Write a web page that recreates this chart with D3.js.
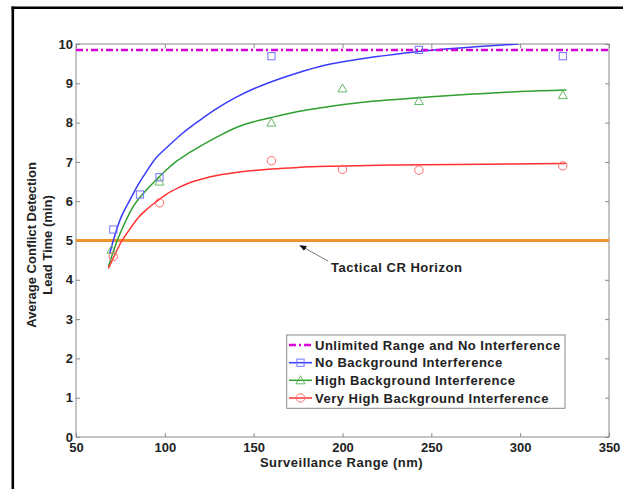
<!DOCTYPE html>
<html><head><meta charset="utf-8">
<script src="https://cdn.jsdelivr.net/npm/d3@7"></script>
<style>
html,body{margin:0;padding:0;background:#fff;}
svg{display:block;}
text{font-family:"Liberation Sans",Arial,sans-serif;font-weight:bold;fill:#222;}
</style></head><body>
<svg id="c" width="623" height="489"></svg>
<script>
// ---- data ----
const xTicks = [50,100,150,200,250,300,350];
const yTicks = [0,1,2,3,4,5,6,7,8,9,10];
const unlimitedLevel = 9.85;
const tacticalHorizon = 5;

const noBgX = [71,86,97,160,243,324];
const noBgY = [5.28,6.17,6.61,9.69,9.85,9.69];
const highBgX = [70,97,160,200,243,324];
const highBgY = [4.76,6.5,8.0,8.87,8.55,8.70];
const veryHighBgX = [71,97,160,200,243,324];
const veryHighBgY = [4.59,5.96,7.03,6.81,6.79,6.90];

// fitted curves, sampled along the drawn lines
const noBgFitX = [69,71,75,80,85,90,95,100,110,120,130,140,150,160,175,190,210,230,250,275,299];
const noBgFitY = [4.67,5.0,5.55,6.0,6.42,6.78,7.1,7.32,7.73,8.07,8.38,8.64,8.86,9.04,9.27,9.46,9.62,9.74,9.84,9.93,10.0];
const highBgFitX = [68.2,73.2,77,82,87,92,97,101,107,114,120,130,140,150,160,175,190,210,230,250,275,300,326];
const highBgFitY = [4.33,5.0,5.4,5.85,6.15,6.4,6.63,6.8,7.03,7.24,7.4,7.65,7.87,8.02,8.13,8.28,8.39,8.51,8.59,8.66,8.73,8.79,8.83];
const veryHighBgFitX = [68.2,72,75,80,85,90,95,101,108,114,122,130,140,150,160,175,195,230,280,326];
const veryHighBgFitY = [4.29,4.65,4.93,5.27,5.58,5.8,5.98,6.18,6.35,6.47,6.58,6.66,6.73,6.78,6.82,6.86,6.89,6.92,6.94,6.96];

const legendLabels = ["Unlimited Range and No Interference","No Background Interference","High Background Interference","Very High Background Interference"];
const annotationText = "Tactical CR Horizon";
const xTitle = "Surveillance Range (nm)";
const yTitle1 = "Average Conflict Detection";
const yTitle2 = "Lead Time (min)";

// ---- drawing ----
const svg = d3.select("#c");
const L=76, R=609, T=44, B=437;
const x = d3.scaleLinear().domain([50,350]).range([L,R]);
const y = d3.scaleLinear().domain([0,10]).range([B,T]);

const C = {blue:"#3a3aff", blueM:"#7373ff", green:"#2f9f2f", greenM:"#66b866", red:"#ff3030", redM:"#ff6a6a", mag:"#d400d4", orange:"#f0922b", axis:"#8a8a8a"};

// outer frame
svg.append("line").attr("x1",12.8).attr("x2",12.8).attr("y1",6.5).attr("y2",489).attr("stroke","#000").attr("stroke-width",2.6);
svg.append("line").attr("x1",11.5).attr("x2",623).attr("y1",7.7).attr("y2",7.7).attr("stroke","#000").attr("stroke-width",2.6);

// clip
svg.append("clipPath").attr("id","clip").append("rect").attr("x",L).attr("y",T).attr("width",R-L).attr("height",B-T);

// axes box
const g = svg.append("g");
g.append("rect").attr("x",L).attr("y",T).attr("width",R-L).attr("height",B-T).attr("fill","none").attr("stroke",C.axis).attr("stroke-width",1);

const xb = g.append("g").attr("transform",`translate(0,${B})`).call(d3.axisBottom(x).tickValues(xTicks).tickSize(-4).tickFormat(d3.format("d")));
const xt = g.append("g").attr("transform",`translate(0,${T})`).call(d3.axisTop(x).tickValues(xTicks).tickSize(-4).tickFormat(""));
const yl = g.append("g").attr("transform",`translate(${L},0)`).call(d3.axisLeft(y).tickValues(yTicks).tickSize(-4).tickPadding(3).tickFormat(d3.format("d")));
const yr = g.append("g").attr("transform",`translate(${R},0)`).call(d3.axisRight(y).tickValues(yTicks).tickSize(-4).tickFormat(""));
[xb,xt,yl,yr].forEach(a=>{a.select(".domain").remove();a.selectAll("line").attr("stroke",C.axis);});
[xb,yl].forEach(a=>a.selectAll("text").style("font-size","13px").style("font-family","'Liberation Sans',Arial,sans-serif").style("font-weight","bold").attr("fill","#222"));
xb.selectAll("text").attr("dy","0.71em").attr("y",6);
yl.selectAll("text").attr("x",-3);

const plot = svg.append("g").attr("clip-path","url(#clip)");

// horizon line
plot.append("line").attr("x1",L).attr("x2",R).attr("y1",y(tacticalHorizon)).attr("y2",y(tacticalHorizon)).attr("stroke",C.orange).attr("stroke-width",3);

const line = d3.line().x(d=>x(d[0])).y(d=>y(d[1])).curve(d3.curveMonotoneX);
const fits = [[noBgFitX,noBgFitY,C.blue],[highBgFitX,highBgFitY,C.green],[veryHighBgFitX,veryHighBgFitY,C.red]];
fits.forEach(([xs,ys,col])=>{
  plot.append("path").datum(xs.map((v,i)=>[v,ys[i]])).attr("d",line).attr("fill","none").attr("stroke",col).attr("stroke-width",1.5);
});

// unlimited line
plot.append("line").attr("x1",L).attr("x2",R).attr("y1",y(unlimitedLevel)).attr("y2",y(unlimitedLevel)).attr("stroke",C.mag).attr("stroke-width",2.5).attr("stroke-dasharray","7,3,2,3");

// markers
function square(sel,cx,cy,col){sel.append("rect").attr("x",cx-3.6).attr("y",cy-3.6).attr("width",7.2).attr("height",7.2).attr("fill","none").attr("stroke",col).attr("stroke-width",1);}
function tri(sel,cx,cy,col){sel.append("path").attr("d",`M${cx},${cy-4.5}L${cx+4.5},${cy+3.5}L${cx-4.5},${cy+3.5}Z`).attr("fill","none").attr("stroke",col).attr("stroke-width",1);}
function circ(sel,cx,cy,col){sel.append("circle").attr("cx",cx).attr("cy",cy).attr("r",4.2).attr("fill","none").attr("stroke",col).attr("stroke-width",1);}
const mk = svg.append("g");
noBgX.forEach((v,i)=>square(mk,x(v),y(noBgY[i]),C.blueM));
highBgX.forEach((v,i)=>tri(mk,x(v),y(highBgY[i]),C.greenM));
veryHighBgX.forEach((v,i)=>circ(mk,x(v),y(veryHighBgY[i]),C.redM));

// annotation
svg.append("defs").append("marker").attr("id","ah").attr("viewBox","0 0 10 10").attr("refX",9).attr("refY",5).attr("markerWidth",7).attr("markerHeight",7).attr("orient","auto")
  .append("path").attr("d","M0,1L10,5L0,9Z").attr("fill","#111");
svg.append("line").attr("x1",328).attr("y1",261).attr("x2",300).attr("y2",245.5).attr("stroke","#777").attr("stroke-width",1).attr("marker-end","url(#ah)");
svg.append("text").attr("x",331).attr("y",271.5).style("font-size","13px").style("letter-spacing","0.5px").text(annotationText);

// titles
svg.append("text").attr("x",341.5).attr("y",467).attr("text-anchor","middle").style("font-size","13px").style("letter-spacing","0.5px").text(xTitle);
svg.append("text").attr("transform","translate(36,245) rotate(-90)").attr("text-anchor","middle").style("font-size","13px").text(yTitle1);
svg.append("text").attr("transform","translate(51.5,245) rotate(-90)").attr("text-anchor","middle").style("font-size","13px").text(yTitle2);

// legend
const lg = svg.append("g");
lg.append("rect").attr("x",286.7).attr("y",335).attr("width",278.3).attr("height",73.3).attr("fill","#fff").attr("stroke",C.axis).attr("stroke-width",1);
const rows=[345,362.7,380.3,398];
const legCols=[C.mag,C.blue,C.green,C.red];
legendLabels.forEach((lab,i)=>{
  const yy=rows[i];
  const ln = lg.append("line").attr("x1",289).attr("x2",312).attr("y1",yy).attr("y2",yy).attr("stroke",legCols[i]).attr("stroke-width",i===0?2.5:1.5);
  if(i===0) ln.attr("stroke-dasharray","7,3,2,3");
  if(i===1) square(lg,300.5,yy,C.blueM);
  if(i===2) tri(lg,300.5,yy,C.greenM);
  if(i===3) circ(lg,300.5,yy,C.redM);
  lg.append("text").attr("x",315).attr("y",yy).attr("dy","0.36em").style("font-size","13px").style("letter-spacing","0.5px").text(lab);
});
</script>
</body></html>
